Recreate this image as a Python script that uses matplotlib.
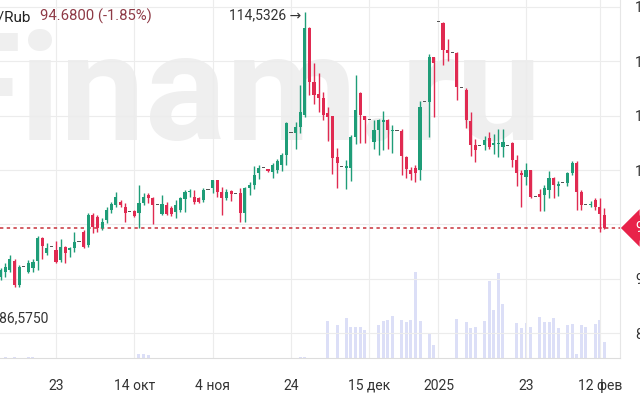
import matplotlib.pyplot as plt

plt.rcParams['font.family'] = ['Roboto', 'DejaVu Sans']

# === Données (USD/RUB, bougies journalières) ===
opens = [
    90.16, 90.67, 90.83, 91.68, 89.45, 91.07, 90.67, 91.00, 91.68, 93.73,
    92.36, 92.91, 92.66, 91.74, 92.91, 92.66, 92.82, 93.42, 94.34, 93.12,
    95.87, 95.72, 94.65, 95.41, 96.33, 96.79, 97.10, 96.64, 96.18, 96.27,
    96.09, 96.94, 97.70, 97.40, 96.79, 96.00, 96.79, 96.50, 96.18, 96.33,
    97.31, 97.95, 97.55, 97.40, 97.25, 98.20, 98.32, 99.08, 98.00, 97.40,
    98.07, 97.80, 97.86, 96.03, 98.32, 98.62, 99.70, 100.15, 100.05, 99.85,
    100.00, 100.46, 101.38, 103.42, 103.42, 103.97, 105.05, 113.00, 108.10, 107.00,
    106.58, 105.20, 104.95, 101.17, 100.30, 100.20, 100.15, 103.06, 107.03, 104.95,
    104.59, 102.60, 103.67, 104.40, 104.59, 103.60, 103.60, 103.60, 101.20, 100.00,
    100.15, 100.00, 106.27, 106.27, 110.40, 113.55, 113.46, 111.00, 110.70, 110.70,
    107.50, 107.34, 104.50, 102.30, 102.20, 102.30, 102.90, 102.30, 102.40, 102.15,
    102.20, 102.45, 100.90, 99.70, 99.40, 100.00, 97.55, 97.80, 97.70, 98.17,
    99.30, 98.50, 98.78, 98.78, 99.70, 100.60, 98.00, 96.80, 96.80, 97.25,
    96.60, 95.87]
highs = [
    90.98, 91.44, 92.20, 91.80, 91.28, 91.07, 91.74, 91.80, 93.94, 93.88,
    93.27, 92.91, 93.52, 93.64, 93.03, 92.91, 94.34, 93.42, 94.50, 96.03,
    96.03, 95.87, 95.57, 96.58, 97.10, 98.00, 97.25, 96.94, 96.18, 96.35,
    98.62, 97.86, 97.86, 97.55, 96.79, 97.70, 97.10, 96.70, 97.25, 97.55,
    98.20, 98.30, 98.20, 97.55, 98.32, 98.20, 99.08, 99.10, 98.47, 98.30,
    98.20, 97.80, 98.32, 98.47, 98.90, 100.40, 100.50, 100.15, 100.10, 100.60,
    101.00, 101.53, 104.43, 103.42, 104.40, 107.80, 114.53, 113.10, 109.80, 108.90,
    107.20, 105.80, 105.00, 102.00, 100.30, 100.90, 103.20, 108.72, 107.20, 105.00,
    104.59, 104.60, 104.70, 105.40, 104.70, 104.10, 103.60, 103.80, 101.30, 100.30,
    100.50, 106.30, 106.27, 110.60, 110.40, 113.55, 113.60, 112.00, 110.70, 110.80,
    107.50, 107.50, 105.30, 102.80, 102.20, 103.10, 103.50, 103.30, 103.80, 103.80,
    102.20, 102.60, 101.40, 100.00, 100.60, 100.00, 97.55, 98.30, 98.60, 99.90,
    99.40, 99.00, 98.78, 99.85, 100.80, 100.80, 98.20, 96.80, 97.20, 97.40,
    97.40, 96.50]
lows = [
    89.91, 90.16, 90.67, 89.24, 89.24, 91.07, 90.52, 90.67, 90.83, 91.80,
    92.20, 92.91, 91.44, 91.59, 91.44, 91.99, 92.52, 93.42, 92.82, 92.91,
    94.19, 94.34, 94.50, 95.11, 96.10, 96.60, 96.57, 95.20, 96.18, 95.70,
    94.65, 96.79, 96.94, 95.05, 96.79, 95.90, 95.87, 95.80, 95.60, 96.18,
    96.18, 97.50, 96.90, 97.00, 97.10, 98.20, 97.86, 97.55, 95.90, 97.25,
    97.20, 97.80, 95.20, 95.20, 97.70, 98.30, 99.20, 100.15, 99.85, 99.30,
    99.70, 99.90, 100.46, 103.42, 101.90, 103.40, 104.90, 106.90, 106.10, 105.35,
    104.60, 102.70, 99.60, 98.32, 100.30, 98.30, 99.00, 102.40, 102.50, 102.50,
    104.59, 101.90, 101.40, 101.80, 101.90, 101.60, 103.60, 99.54, 99.30, 99.10,
    98.90, 99.10, 106.27, 103.00, 104.90, 113.55, 109.60, 110.00, 110.70, 106.40,
    107.50, 103.90, 101.30, 100.70, 102.20, 101.80, 101.90, 101.50, 101.20, 101.20,
    102.20, 100.30, 98.50, 96.64, 98.60, 97.40, 97.55, 96.20, 96.20, 97.40,
    97.40, 97.60, 98.78, 98.50, 99.50, 96.33, 96.30, 96.80, 96.60, 96.30,
    94.34, 94.60]
closes = [
    90.83, 91.13, 91.80, 89.45, 91.13, 91.07, 91.50, 91.59, 93.73, 93.03,
    92.82, 92.91, 91.59, 92.91, 92.36, 92.82, 93.42, 93.42, 92.96, 95.87,
    94.80, 94.65, 95.26, 96.33, 96.88, 97.55, 96.80, 96.03, 96.18, 95.78,
    96.94, 97.55, 97.40, 96.79, 96.79, 96.85, 95.93, 96.00, 96.79, 97.40,
    98.01, 98.10, 97.10, 97.10, 98.17, 98.20, 99.08, 98.00, 97.40, 98.00,
    97.77, 97.80, 96.03, 98.32, 98.62, 99.54, 100.15, 100.15, 99.95, 100.46,
    100.80, 101.38, 104.28, 103.42, 103.97, 105.35, 113.00, 108.10, 106.88, 106.58,
    105.05, 104.90, 101.07, 100.67, 100.30, 100.40, 103.06, 105.50, 105.05, 104.60,
    104.59, 103.67, 104.59, 104.60, 103.67, 103.70, 103.60, 101.30, 100.10, 99.60,
    99.75, 105.80, 106.27, 110.40, 109.80, 113.55, 111.00, 110.70, 110.70, 107.60,
    107.50, 104.59, 102.30, 101.80, 102.20, 102.75, 102.10, 102.50, 102.50, 102.60,
    102.20, 100.90, 99.70, 99.50, 100.00, 97.55, 97.55, 97.50, 98.32, 99.24,
    98.60, 98.70, 98.78, 99.70, 100.60, 98.00, 96.80, 96.80, 96.90, 96.60,
    96.00, 94.68]
volumes = [
    0, 1, 0, 1, 0, 0, 1, 1.5, 0, 0,
    0, 0, 0, 0, 0, 0, 0, 0, 0, 0,
    0, 0, 0, 0, 0, 0, 0, 0, 0, 0,
    4, 4, 3, 0, 0, 0, 0, 0, 0, 0,
    0, 0, 0, 0, 0, 0, 0, 0, 0, 0,
    0, 0, 0, 0, 0, 0, 0, 0, 0, 0,
    0, 0, 0, 0, 0, 1, 1, 0, 0, 0,
    0, 37, 0, 33, 0, 40, 31, 31, 31, 28,
    0, 0, 33, 37, 38, 42, 0, 38, 36, 38,
    86, 37, 0, 25, 13, 0, 0, 0, 0, 39,
    0, 36, 30, 31, 0, 37, 77, 48, 85, 54,
    0, 0, 35, 30, 35, 31, 0, 41, 36, 36,
    40, 30, 0, 33, 34, 4, 33, 31, 0, 34,
    38, 16]

tick_pos = [12, 29, 46, 63, 80, 95, 114, 130]
tick_labels = ['23', '14 окт', '4 ноя', '24', '15 дек', '2025', '23', '12 фев']
price_ticks = [85, 90, 95, 100, 105, 110, 115]

last_price = 94.68
max_price = 114.5326
min_price = 86.5750

GREEN = '#1f9d78'
RED = '#e02a51'
FLAT = '#555555'

idx = list(range(len(opens)))
colors = []
for o, c in zip(opens, closes):
    if c > o:
        colors.append(GREEN)
    elif c < o:
        colors.append(RED)
    else:
        colors.append(FLAT)

# === Figure ===
fig = plt.figure(figsize=(6.4, 4), dpi=100)
fig.patch.set_facecolor('white')

W, H = 640, 400
ax = fig.add_axes([0, 42 / H, 620 / W, 358 / H])
axv = ax.twinx()

# Filigrane
fig.text(-63 / W, 1 - 140 / H, 'Finam.ru', fontsize=109, fontweight='bold',
         color='#efefef', va='baseline', ha='left', zorder=-5)

# Volumes
axv.bar(idx, volumes, width=0.65, color='#dcdff7', linewidth=0)
axv.set_ylim(0, 358)
axv.set_yticks([])
for s in axv.spines.values():
    s.set_visible(False)

ax.set_zorder(axv.get_zorder() + 1)
ax.patch.set_visible(False)

# Bougies
ax.vlines(idx, lows, highs, colors=colors, linewidth=1, zorder=3)
bottoms = [min(o, c) for o, c in zip(opens, closes)]
heights = [max(abs(c - o), 0.09) for o, c in zip(opens, closes)]
ax.bar(idx, heights, bottom=bottoms, width=0.68, color=colors, linewidth=0, zorder=4)

ax.set_xlim(-0.152, 134.4)
ax.set_ylim(82.75, 115.6)

ax.axhline(last_price, color='#c8313a', linestyle=(0, (2.2, 2.2)), linewidth=1.1, zorder=2)

# Axes et grille
ax.set_xticks(tick_pos)
ax.set_xticklabels(tick_labels)
ax.set_yticks(price_ticks)
# l'étiquette 95 est cachée par le marqueur du dernier prix
ax.set_yticklabels(['' if p == 95 else str(p) for p in price_ticks])
ax.yaxis.tick_right()
ax.tick_params(axis='x', length=0, pad=15, labelsize=10, labelcolor='#333333')
ax.tick_params(axis='y', length=0, pad=11, labelsize=10, labelcolor='#333333')
ax.grid(True, color='#ececec', linewidth=0.8, zorder=0)
for side in ['top', 'left']:
    ax.spines[side].set_visible(False)
ax.spines['bottom'].set_color('#dddddd')
ax.spines['right'].set_color('#e6e6e6')

# Textes
fig.text(31 / W, 1 - 21 / H, 'USD/Rub', fontsize=11, color='#222222', ha='right', va='baseline')
fig.text(40 / W, 1 - 21 / H, '94.6800 (-1.85%)', fontsize=10.7, color='#8e3a46',
         ha='left', va='baseline')
fig.text(301 / W, 1 - 19 / H, '114,5326 →', fontsize=10, color='#333333',
         ha='right', va='baseline')
fig.text(48 / W, 1 - 322 / H, '← 86,5750', fontsize=10, color='#333333',
         ha='right', va='baseline')

# Étiquette du dernier prix
fig.text(635 / W, 1 - 228 / H, '94.68', fontsize=10, color='white', ha='left', va='center',
         bbox=dict(boxstyle='larrow,pad=0.4', fc='#e8234a', ec='none'), zorder=10)

fig.savefig('out.png', dpi=100)
